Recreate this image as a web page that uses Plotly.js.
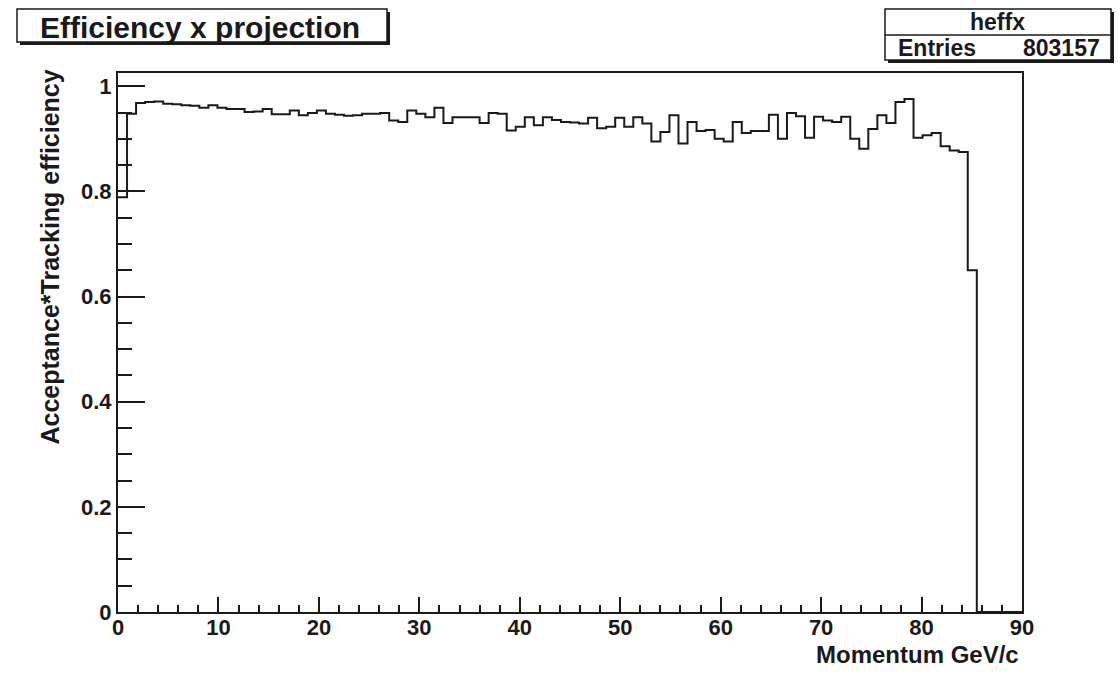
<!DOCTYPE html>
<html>
<head>
<meta charset="utf-8">
<script src="https://cdn.plot.ly/plotly-3.0.1.min.js"></script>
<style>html,body{margin:0;padding:0;background:#fff;}#chart{width:1118px;height:674px;}</style>
</head>
<body>
<div id="chart"></div>
<script>
// Histogram definition (ROOT TH1 "heffx"): 100 bins from 0 to 90 GeV/c
const nBins = 100;
const xMin = 0;
const xMax = 90;
// Bin contents (efficiency per bin)
const efficiency = [
  0.789, 0.948, 0.968, 0.970, 0.971, 0.967, 0.966, 0.964, 0.963, 0.959,
  0.964, 0.959, 0.957, 0.957, 0.951, 0.952, 0.957, 0.947, 0.947, 0.954,
  0.945, 0.949, 0.954, 0.948, 0.946, 0.944, 0.945, 0.948, 0.948, 0.949,
  0.935, 0.932, 0.954, 0.948, 0.941, 0.959, 0.930, 0.941, 0.941, 0.941,
  0.930, 0.949, 0.948, 0.916, 0.923, 0.941, 0.926, 0.941, 0.936, 0.932,
  0.931, 0.929, 0.940, 0.920, 0.923, 0.940, 0.923, 0.941, 0.929, 0.895,
  0.913, 0.945, 0.891, 0.932, 0.915, 0.917, 0.900, 0.895, 0.932, 0.911,
  0.915, 0.915, 0.946, 0.900, 0.949, 0.943, 0.902, 0.942, 0.935, 0.932,
  0.942, 0.900, 0.881, 0.919, 0.945, 0.930, 0.970, 0.976, 0.902, 0.907,
  0.911, 0.886, 0.878, 0.875, 0.650, 0, 0, 0, 0, 0
];
const histName = "heffx";
const entries = "803157";
const chartTitle = "Efficiency x projection";
const xTitle = "Momentum GeV/c";
const yTitle = "Acceptance*Tracking efficiency";

// step-line points (left bin edges + final right edge)
const binWidth = (xMax - xMin) / nBins;
const xs = [], ys = [];
for (let i = 0; i < nBins; i++) { xs.push(xMin + i * binWidth); ys.push(efficiency[i]); }
xs.push(xMax); ys.push(efficiency[nBins - 1]);

const W = 1118, H = 674;
const M = {l: 118, r: 96, t: 73, b: 62};
const PW = W - M.l - M.r, PH = H - M.t - M.b;
const px = X => (X - M.l) / PW;
const py = Y => (H - M.b - Y) / PH;
const FONT = '"Liberation Sans", Arial, Helvetica, sans-serif';
const INK = '#1a1a1a';

function rectShape(x0, y0, x1, y1, fill, lw) {
  return {type: 'rect', xref: 'paper', yref: 'paper', x0: px(x0), x1: px(x1), y0: py(y1), y1: py(y0),
          fillcolor: fill, line: {color: INK, width: lw}, layer: 'above'};
}
function lineShape(x0, y0, x1, y1, lw) {
  return {type: 'line', xref: 'paper', yref: 'paper', x0: px(x0), x1: px(x1), y0: py(y0), y1: py(y1),
          line: {color: INK, width: lw}, layer: 'above'};
}

const shapes = [
  // title box with shadow
  rectShape(20, 12, 390, 45, INK, 0),
  rectShape(17, 9, 387, 42, '#ffffff', 1.5),
  // stats box with shadow
  rectShape(888, 12, 1114, 63, INK, 0),
  rectShape(885, 9, 1111, 60, '#ffffff', 1.5),
  lineShape(885, 35, 1111, 35, 1.5)
];

function ann(text, X, Y, xa, ya, size, extra) {
  return Object.assign({text: text, xref: 'paper', yref: 'paper', x: px(X), y: py(Y),
    xanchor: xa, yanchor: ya, showarrow: false,
    font: {family: FONT, size: size, color: INK}}, extra || {});
}

const annotations = [
  ann('<b>' + chartTitle + '</b>', 200, 27, 'center', 'middle', 30),
  ann('<b>' + histName + '</b>', 997, 22, 'center', 'middle', 23),
  ann('<b>Entries</b>', 896, 48, 'left', 'middle', 23),
  ann('<b>' + entries + '</b>', 1102, 48, 'right', 'middle', 23),
  ann('<b>' + xTitle + '</b>', 1021, 654, 'right', 'middle', 24),
  ann('<b>' + yTitle + '</b>', 49, 68, 'center', 'top', 25, {textangle: -90})
];

const trace = {
  type: 'scatter', mode: 'lines', x: xs, y: ys,
  line: {shape: 'hv', color: INK, width: 2},
  hoverinfo: 'x+y', showlegend: false
};

const axisCommon = {
  showgrid: false, zeroline: false, showline: true, linecolor: INK, linewidth: 2,
  mirror: true, ticks: 'inside', tickcolor: INK, tickwidth: 2,
  tickfont: {family: FONT, size: 22, color: INK}
};

const layout = {
  width: W, height: H, margin: M,
  paper_bgcolor: '#ffffff', plot_bgcolor: '#ffffff',
  font: {family: FONT, color: INK},
  showlegend: false,
  xaxis: Object.assign({}, axisCommon, {
    range: [xMin, xMax], dtick: 10, tick0: 0, ticklen: 15,
    tickprefix: '<b>', ticksuffix: '</b>', ticklabelstandoff: -5,
    minor: {dtick: 2, tick0: 0, ticks: 'inside', ticklen: 7, tickcolor: INK, tickwidth: 2}
  }),
  yaxis: Object.assign({}, axisCommon, {
    range: [0, 1.0253], dtick: 0.2, tick0: 0, ticklen: 27,
    tickprefix: '<b>', ticksuffix: '</b>',
    minor: {dtick: 0.05, tick0: 0, ticks: 'inside', ticklen: 14, tickcolor: INK, tickwidth: 2}
  }),
  shapes: shapes,
  annotations: annotations
};

Plotly.newPlot('chart', [trace], layout, {displayModeBar: false, staticPlot: true});
</script>
</body>
</html>
